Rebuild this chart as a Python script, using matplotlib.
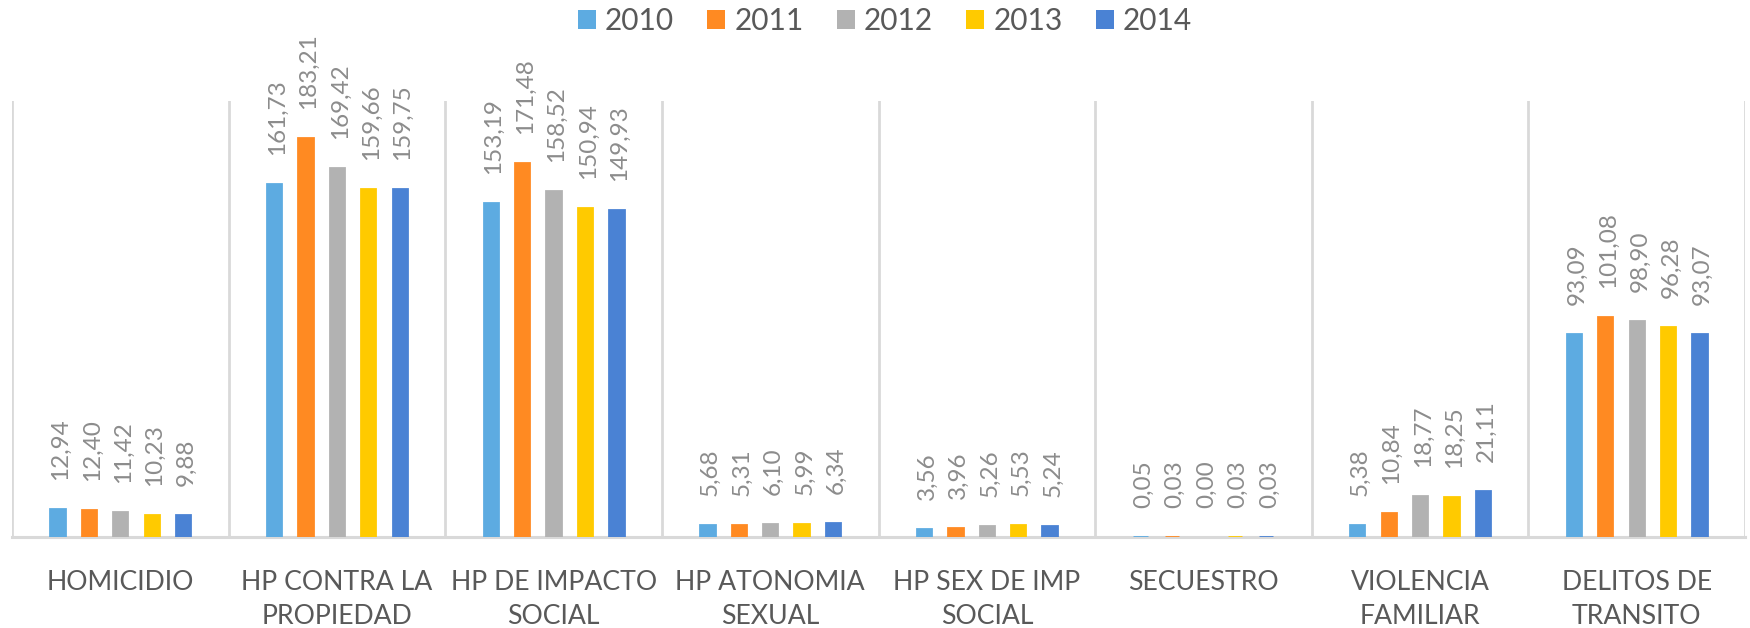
import matplotlib
matplotlib.use("Agg")
import matplotlib.pyplot as plt
from matplotlib.patches import Rectangle
import numpy as np

plt.rcParams['font.family'] = ['Lato', 'DejaVu Sans']

categories = ["HOMICIDIO", "HP CONTRA LA\nPROPIEDAD", "HP DE IMPACTO\nSOCIAL",
              "HP ATONOMIA\nSEXUAL", "HP SEX DE IMP\nSOCIAL", "SECUESTRO",
              "VIOLENCIA\nFAMILIAR", "DELITOS DE\nTRANSITO"]
years = ["2010", "2011", "2012", "2013", "2014"]
v2010 = [12.94, 161.73, 153.19, 5.68, 3.56, 0.05, 5.38, 93.09]
v2011 = [12.40, 183.21, 171.48, 5.31, 3.96, 0.03, 10.84, 101.08]
v2012 = [11.42, 169.42, 158.52, 6.10, 5.26, 0.00, 18.77, 98.90]
v2013 = [10.23, 159.66, 150.94, 5.99, 5.53, 0.03, 18.25, 96.28]
v2014 = [9.88, 159.75, 149.93, 6.34, 5.24, 0.03, 21.11, 93.07]
series = [v2010, v2011, v2012, v2013, v2014]
colors = ["#5DABE1", "#FF8A22", "#B2B2B2", "#FFCA00", "#4A82D4"]

W, H = 1750, 628
fig = plt.figure(figsize=(W / 100, H / 100), dpi=100)
ax_left, ax_right, ax_top, ax_bot = 12, 1745, 101, 537
ax = fig.add_axes([ax_left / W, 1 - ax_bot / H, (ax_right - ax_left) / W, (ax_bot - ax_top) / H])

n = len(categories)
x = np.arange(n)
step = 0.145
bw = 0.066
for j, (vals, c) in enumerate(zip(series, colors)):
    xs = x + (j - 2) * step
    lws = [2.0 if v > 0 else 0 for v in vals]
    ax.bar(xs, vals, width=bw, color=c, edgecolor=c, linewidth=lws, zorder=3)
    for xi, v in zip(xs, vals):
        ax.annotate(f"{v:.2f}".replace(".", ","), (xi, v), xytext=(3, 29),
                    textcoords="offset pixels", rotation=90, ha="center", va="bottom",
                    fontsize=17.5, color="#8C8C8C", zorder=4)

ax.set_xlim(-0.5, n - 0.5)
ax.set_ylim(0, 200)
for b in np.arange(n + 1) - 0.5:
    ax.axvline(b, color="#D9D9D9", lw=2.0, zorder=1)
for s in ["top", "left", "right"]:
    ax.spines[s].set_visible(False)
ax.spines["bottom"].set_color("#D9D9D9")
ax.spines["bottom"].set_linewidth(2.2)
ax.set_yticks([])
ax.set_xticks(x)
ax.set_xticklabels(categories, fontsize=19.2, color="#595959", linespacing=1.42)
ax.tick_params(axis="x", length=0, pad=24)

handles = [Rectangle((0, 0), 1, 1, facecolor=c, edgecolor="none") for c in colors]
fig.legend(handles, years, loc="center", bbox_to_anchor=(885 / W, 1 - 21 / H),
           ncol=5, frameon=False, fontsize=21.5, labelcolor="#595959",
           handlelength=0.6, handleheight=0.6, handletextpad=0.3, columnspacing=1.12,
           borderpad=0, borderaxespad=0)

fig.savefig("out.png", dpi=100)
